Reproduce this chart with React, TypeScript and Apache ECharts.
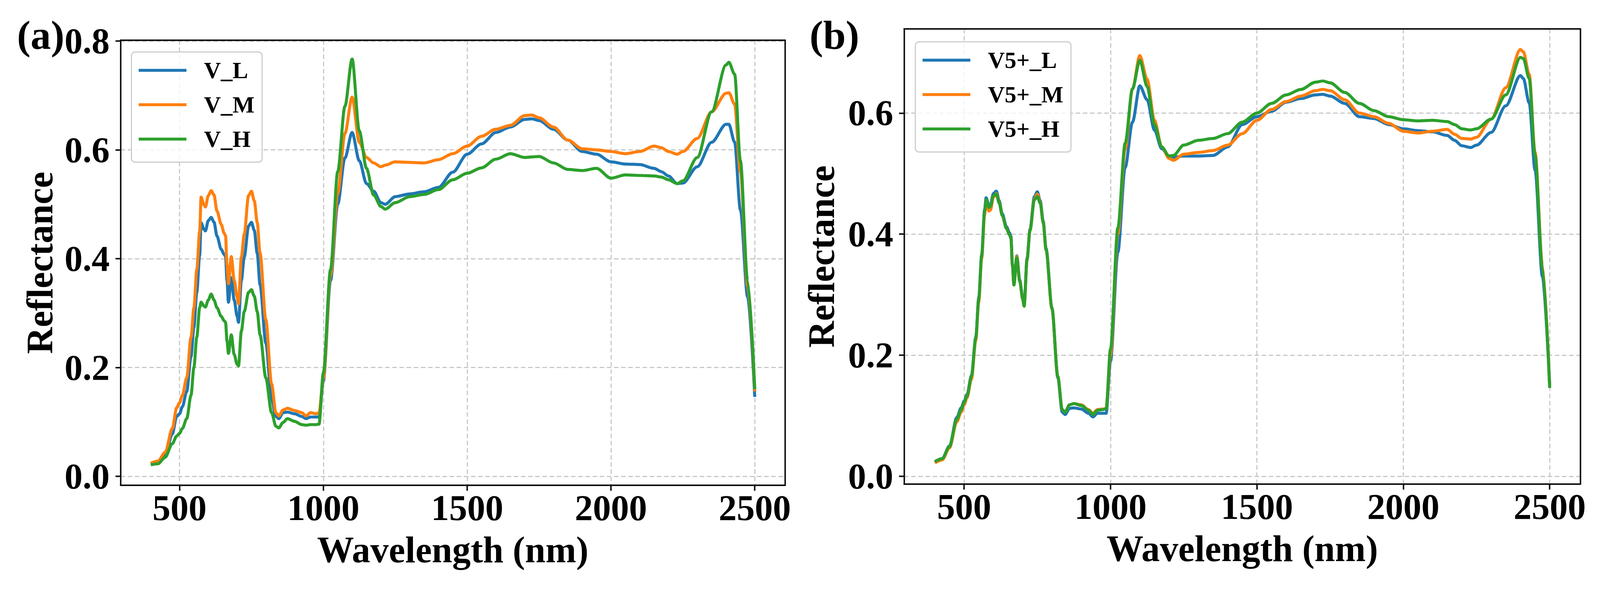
// Espectros de reflectancia (400-2500 nm) em dois paineis lado a lado:
// (a) V_L / V_M / V_H e (b) V5+_L / V5+_M / V5+_H, estilo matplotlib.
// O layout foi medido numa figura de 4419x1510 e e reescalado para a janela real.
import { useEffect, useRef } from 'react'
import * as echarts from 'echarts'

const WAVELENGTH = [
  400, 425, 450, 475, 490, 500, 510, 525, 540, 550,
  560, 570, 575, 585, 590, 600, 610, 620, 630, 645,
  655, 660, 665, 670, 680, 690, 700, 705, 715, 725,
  740, 750, 760, 770, 780, 800, 820, 835, 845, 860,
  875, 900, 925, 940, 955, 975, 985, 1000, 1025, 1050,
  1075, 1100, 1125, 1150, 1175, 1200, 1215, 1250, 1300, 1350,
  1400, 1450, 1500, 1550, 1600, 1650, 1700, 1725, 1750, 1800,
  1850, 1900, 1950, 2000, 2050, 2100, 2150, 2175, 2200, 2230,
  2250, 2300, 2350, 2400, 2410, 2430, 2450, 2475, 2500,
]

// painel (a)
const V_L = [
  0.023, 0.026, 0.038, 0.078, 0.110, 0.115, 0.128, 0.156, 0.220, 0.274,
  0.338, 0.406, 0.466, 0.454, 0.451, 0.470, 0.476, 0.467, 0.442, 0.417,
  0.408, 0.404, 0.360, 0.320, 0.365, 0.324, 0.295, 0.283, 0.360, 0.403,
  0.460, 0.467, 0.452, 0.410, 0.352, 0.245, 0.142, 0.110, 0.106, 0.117,
  0.118, 0.115, 0.110, 0.106, 0.109, 0.109, 0.109, 0.175, 0.360, 0.500,
  0.585, 0.632, 0.580, 0.538, 0.524, 0.503, 0.500, 0.514, 0.519, 0.523,
  0.531, 0.559, 0.592, 0.611, 0.632, 0.642, 0.656, 0.657, 0.654, 0.638,
  0.618, 0.597, 0.592, 0.578, 0.574, 0.573, 0.566, 0.560, 0.552, 0.538,
  0.539, 0.569, 0.614, 0.647, 0.647, 0.614, 0.490, 0.330, 0.146,
]
const V_M = [
  0.024, 0.028, 0.044, 0.088, 0.126, 0.135, 0.149, 0.181, 0.256, 0.310,
  0.380, 0.450, 0.513, 0.499, 0.495, 0.516, 0.525, 0.517, 0.488, 0.463,
  0.447, 0.442, 0.388, 0.354, 0.404, 0.360, 0.331, 0.317, 0.403, 0.445,
  0.516, 0.524, 0.506, 0.467, 0.410, 0.288, 0.170, 0.117, 0.111, 0.122,
  0.125, 0.121, 0.117, 0.111, 0.117, 0.115, 0.117, 0.180, 0.370, 0.520,
  0.630, 0.697, 0.614, 0.586, 0.576, 0.569, 0.572, 0.578, 0.577, 0.576,
  0.582, 0.593, 0.607, 0.625, 0.638, 0.645, 0.663, 0.664, 0.659, 0.642,
  0.618, 0.602, 0.600, 0.597, 0.593, 0.597, 0.607, 0.604, 0.597, 0.592,
  0.597, 0.621, 0.670, 0.704, 0.705, 0.684, 0.560, 0.350, 0.156,
]
const V_H = [
  0.021, 0.023, 0.035, 0.060, 0.074, 0.079, 0.088, 0.106, 0.149, 0.200,
  0.256, 0.310, 0.320, 0.313, 0.311, 0.324, 0.335, 0.324, 0.310, 0.294,
  0.286, 0.283, 0.249, 0.226, 0.260, 0.224, 0.206, 0.203, 0.267, 0.303,
  0.338, 0.343, 0.331, 0.303, 0.260, 0.181, 0.117, 0.092, 0.089, 0.099,
  0.106, 0.101, 0.095, 0.094, 0.095, 0.095, 0.096, 0.190, 0.380, 0.560,
  0.680, 0.767, 0.635, 0.566, 0.517, 0.496, 0.491, 0.503, 0.514, 0.518,
  0.527, 0.545, 0.557, 0.567, 0.583, 0.593, 0.586, 0.587, 0.588, 0.576,
  0.564, 0.562, 0.566, 0.548, 0.554, 0.553, 0.552, 0.550, 0.545, 0.538,
  0.543, 0.586, 0.670, 0.756, 0.761, 0.739, 0.580, 0.360, 0.160,
]

// painel (b)
const V5_L = [
  0.024, 0.029, 0.050, 0.097, 0.113, 0.124, 0.135, 0.166, 0.230, 0.295,
  0.366, 0.440, 0.460, 0.447, 0.449, 0.467, 0.471, 0.455, 0.434, 0.412,
  0.402, 0.396, 0.350, 0.318, 0.364, 0.324, 0.295, 0.283, 0.360, 0.408,
  0.462, 0.470, 0.455, 0.422, 0.376, 0.278, 0.163, 0.106, 0.102, 0.112,
  0.113, 0.111, 0.104, 0.098, 0.104, 0.104, 0.104, 0.190, 0.370, 0.510,
  0.585, 0.645, 0.622, 0.572, 0.541, 0.529, 0.527, 0.529, 0.529, 0.530,
  0.544, 0.581, 0.594, 0.603, 0.618, 0.624, 0.630, 0.631, 0.628, 0.616,
  0.594, 0.591, 0.581, 0.574, 0.571, 0.569, 0.563, 0.555, 0.546, 0.543,
  0.547, 0.568, 0.612, 0.662, 0.657, 0.617, 0.506, 0.330, 0.149,
]
const V5_M = [
  0.022, 0.027, 0.047, 0.090, 0.106, 0.118, 0.130, 0.160, 0.225, 0.288,
  0.360, 0.432, 0.452, 0.438, 0.440, 0.461, 0.467, 0.452, 0.431, 0.409,
  0.399, 0.393, 0.348, 0.316, 0.363, 0.322, 0.293, 0.281, 0.358, 0.406,
  0.458, 0.466, 0.452, 0.420, 0.374, 0.277, 0.165, 0.110, 0.106, 0.118,
  0.120, 0.118, 0.110, 0.104, 0.110, 0.111, 0.112, 0.200, 0.400, 0.540,
  0.640, 0.695, 0.656, 0.588, 0.544, 0.525, 0.522, 0.532, 0.535, 0.538,
  0.547, 0.566, 0.588, 0.606, 0.619, 0.628, 0.637, 0.639, 0.637, 0.622,
  0.600, 0.594, 0.583, 0.570, 0.567, 0.570, 0.573, 0.565, 0.558, 0.557,
  0.560, 0.590, 0.642, 0.705, 0.701, 0.664, 0.535, 0.350, 0.146,
]
const V5_H = [
  0.024, 0.029, 0.049, 0.094, 0.110, 0.122, 0.133, 0.165, 0.229, 0.293,
  0.364, 0.438, 0.457, 0.444, 0.446, 0.464, 0.466, 0.451, 0.431, 0.409,
  0.399, 0.393, 0.348, 0.316, 0.361, 0.322, 0.293, 0.281, 0.358, 0.406,
  0.457, 0.462, 0.451, 0.419, 0.374, 0.277, 0.165, 0.110, 0.106, 0.118,
  0.120, 0.117, 0.109, 0.102, 0.109, 0.110, 0.112, 0.210, 0.410, 0.550,
  0.640, 0.687, 0.644, 0.581, 0.544, 0.529, 0.530, 0.547, 0.555, 0.558,
  0.566, 0.585, 0.600, 0.616, 0.630, 0.639, 0.651, 0.653, 0.650, 0.634,
  0.616, 0.604, 0.594, 0.589, 0.587, 0.588, 0.586, 0.581, 0.574, 0.572,
  0.574, 0.590, 0.630, 0.692, 0.690, 0.657, 0.530, 0.345, 0.146,
]

const NAMES_A = ['V_L', 'V_M', 'V_H']
const NAMES_B = ['V5+_L', 'V5+_M', 'V5+_H']
const X_TICKS = [500, 1000, 1500, 2000, 2500]
const Y_TICKS_A = [0, 0.2, 0.4, 0.6, 0.8]
const Y_TICKS_B = [0, 0.2, 0.4, 0.6]

const COLORS = ['#1f77b4', '#ff7f0e', '#2ca02c']
const FONT = '"Liberation Serif", "Times New Roman", serif'
const BASE_W = 4419
const BASE_H = 1510

function montarOpcao(sx: number, sy: number) {
  const sf = (sx + sy) / 2
  const X = (v: number) => v * sx
  const Y = (v: number) => v * sy
  const F = (v: number) => v * sf

  const spine = { color: '#111', width: F(4) }
  const gridLine = { type: [F(12), F(7)], color: '#c8c8c8', width: F(3) }
  const text = { fontFamily: FONT, fontWeight: 'bold' as const, color: '#000' }

  // eixos inferior/esquerdo com rotulos + superior/direito so com a linha (moldura)
  const eixosX = (grid: number) => [
    {
      type: 'value', gridIndex: grid, position: 'bottom', min: 295, max: 2605,
      name: 'Wavelength (nm)', nameLocation: 'middle', nameGap: Y(118),
      nameTextStyle: { ...text, fontSize: F(98) },
      axisLine: { onZero: false, lineStyle: spine },
      axisTick: { length: Y(14), customValues: X_TICKS, lineStyle: spine },
      axisLabel: {
        ...text, fontSize: F(96), margin: Y(12), customValues: X_TICKS,
        formatter: (v: number) => String(v),
      },
      splitLine: { show: true, lineStyle: gridLine },
    },
    {
      type: 'value', gridIndex: grid, position: 'top', min: 295, max: 2605,
      axisLine: { onZero: false, lineStyle: spine },
      axisTick: { show: false }, axisLabel: { show: false }, splitLine: { show: false },
    },
  ]

  const eixosY = (grid: number, min: number, max: number, ticks: number[], gap: number) => [
    {
      type: 'value', gridIndex: grid, position: 'left', min, max,
      name: 'Reflectance', nameLocation: 'middle', nameGap: X(gap), nameRotate: 90,
      nameTextStyle: { ...text, fontSize: F(98) },
      axisLine: { onZero: false, lineStyle: spine },
      axisTick: { length: X(14), customValues: ticks, lineStyle: spine },
      axisLabel: {
        ...text, fontSize: F(96), margin: X(30), customValues: ticks,
        formatter: (v: number) => v.toFixed(1),
      },
      splitLine: { show: true, lineStyle: gridLine },
    },
    {
      type: 'value', gridIndex: grid, position: 'right', min, max,
      axisLine: { onZero: false, lineStyle: spine },
      axisTick: { show: false }, axisLabel: { show: false }, splitLine: { show: false },
    },
  ]

  const legenda = (left: number, top: number, nomes: string[]) => ({
    orient: 'vertical', left: X(left), top: Y(top), data: nomes,
    icon: 'rect', itemWidth: X(132), itemHeight: F(8), itemGap: Y(18),
    padding: [Y(12), X(21), Y(24), X(20)],
    backgroundColor: 'rgba(255,255,255,0.8)',
    borderColor: '#cccccc', borderWidth: F(3), borderRadius: F(10),
    textStyle: { ...text, fontSize: F(62), lineHeight: Y(70), padding: [0, 0, 0, X(43)] },
  })

  const series = (nomes: string[], valores: number[][], eixo: number) =>
    nomes.map((nome, i) => ({
      name: nome,
      type: 'line',
      xAxisIndex: eixo,
      yAxisIndex: eixo,
      data: WAVELENGTH.map((w, j) => [w, valores[i][j]]),
      showSymbol: false,
      symbol: 'none',
      smooth: 0.3,
      smoothMonotone: 'x',
      itemStyle: { color: COLORS[i] },
      lineStyle: { color: COLORS[i], width: F(8) },
    }))

  const rotulo = (texto: string, x: number) => ({
    type: 'text', x: X(x), y: Y(90),
    style: { text: texto, ...text, fill: '#000', fontSize: F(108), verticalAlign: 'middle' },
  })

  return {
    animation: false,
    backgroundColor: '#ffffff',
    grid: [
      { left: X(333), top: Y(103), width: X(1835), height: Y(1139) },
      { left: X(2497), top: Y(74), width: X(1868), height: Y(1165) },
    ],
    xAxis: [...eixosX(0), ...eixosX(1)],
    yAxis: [
      ...eixosY(0, -0.0165, 0.8015, Y_TICKS_A, 172),
      ...eixosY(1, -0.013, 0.739, Y_TICKS_B, 177),
    ],
    legend: [legenda(363, 133, NAMES_A), legenda(2528, 107, NAMES_B)],
    graphic: [rotulo('(a)', 47), rotulo('(b)', 2236)],
    series: [
      ...series(NAMES_A, [V_L, V_M, V_H], 0),
      ...series(NAMES_B, [V5_L, V5_M, V5_H], 2),
    ],
  }
}

export default function App() {
  const containerRef = useRef<HTMLDivElement>(null)
  const largura = window.innerWidth || BASE_W
  const altura = window.innerHeight || BASE_H

  useEffect(() => {
    if (!containerRef.current) return
    const chart = echarts.init(containerRef.current, undefined, { renderer: 'svg' })
    chart.setOption(montarOpcao(largura / BASE_W, altura / BASE_H))
    return () => chart.dispose()
  }, [largura, altura])

  return (
    <div
      ref={containerRef}
      style={{ position: 'absolute', left: 0, top: 0, width: largura, height: altura }}
    />
  )
}
